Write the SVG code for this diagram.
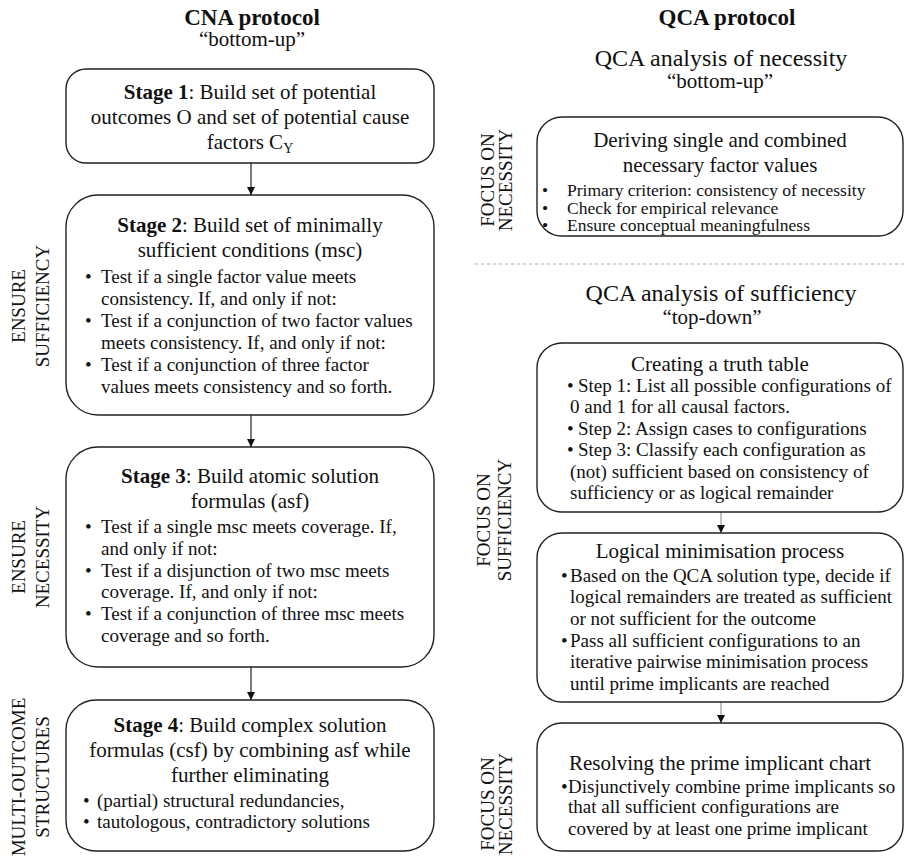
<svg xmlns="http://www.w3.org/2000/svg" width="904" height="860" viewBox="0 0 904 860">
<style>
text{font-family:"Liberation Serif","Times New Roman",serif;fill:#111}
.title{font-size:23px;font-weight:bold;text-anchor:middle}
.sub{font-size:21px;text-anchor:middle}
.h2{font-size:24px;text-anchor:middle}
.head{font-size:21px;text-anchor:middle}
.b{font-size:19px}
.bs{font-size:17.5px}
.side{font-size:19px;text-anchor:middle}
.box{fill:#fff;stroke:#222;stroke-width:1.4}
.conn{stroke:#222;stroke-width:1.2;fill:none}
.conn2{stroke:#999;stroke-width:1.2;fill:none}
</style>
<defs>
<marker id="ah" markerWidth="10" markerHeight="10" refX="8" refY="4" orient="auto" markerUnits="userSpaceOnUse">
<path d="M0,0 L8,4 L0,8 Z" fill="#111"/>
</marker>
</defs>
<rect width="904" height="860" fill="#fff"/>

<g id="titles">
<text class="title" x="252" y="25">CNA protocol</text>
<text class="sub" x="252" y="46">“bottom-up”</text>
<text class="title" x="727" y="25">QCA protocol</text>
<text class="h2" x="721" y="66">QCA analysis of necessity</text>
<text class="sub" x="720" y="88">“bottom-up”</text>
<text class="h2" x="721" y="301">QCA analysis of sufficiency</text>
<text class="sub" x="712" y="324">“top-down”</text>
<line x1="475" y1="264" x2="904" y2="264" stroke="#aaa" stroke-width="1" stroke-dasharray="3,3"/>
</g>

<g id="side-labels">
<text class="side" transform="translate(25,306) rotate(-90)">ENSURE</text>
<text class="side" transform="translate(49,306) rotate(-90)">SUFFICIENCY</text>
<text class="side" transform="translate(25,557) rotate(-90)">ENSURE</text>
<text class="side" transform="translate(49,557) rotate(-90)">NECESSITY</text>
<text class="side" transform="translate(25,777) rotate(-90)">MULTI-OUTCOME</text>
<text class="side" transform="translate(49,777) rotate(-90)">STRUCTURES</text>
<text class="side" transform="translate(494,180) rotate(-90)">FOCUS ON</text>
<text class="side" transform="translate(512,180) rotate(-90)">NECESSITY</text>
<text class="side" transform="translate(490,520) rotate(-90)">FOCUS ON</text>
<text class="side" transform="translate(511,520) rotate(-90)">SUFFICIENCY</text>
<text class="side" transform="translate(494,804) rotate(-90)">FOCUS ON</text>
<text class="side" transform="translate(512,804) rotate(-90)">NECESSITY</text>
</g>

<g id="connectors">
<line class="conn" x1="251" y1="163" x2="251" y2="195" marker-end="url(#ah)"/>
<line class="conn" x1="251" y1="415" x2="251" y2="447" marker-end="url(#ah)"/>
<line class="conn" x1="251" y1="667" x2="251" y2="700" marker-end="url(#ah)"/>
<line class="conn2" x1="721" y1="512" x2="721" y2="533" marker-end="url(#ah)"/>
<line class="conn2" x1="721" y1="702" x2="721" y2="723" marker-end="url(#ah)"/>
</g>

<g id="stage1">
<rect class="box" x="66" y="69" width="368" height="94" rx="20"/>
<text class="head" x="250" y="99"><tspan font-weight="bold">Stage 1</tspan>: Build set of potential</text>
<text class="head" x="250" y="124">outcomes O and set of potential cause</text>
<text class="head" x="250" y="149">factors C<tspan font-size="14" dy="4">Y</tspan></text>
</g>

<g id="stage2">
<rect class="box" x="66" y="195" width="368" height="220" rx="32"/>
<text class="head" x="250" y="232"><tspan font-weight="bold">Stage 2</tspan>: Build set of minimally</text>
<text class="head" x="250" y="257">sufficient conditions (msc)</text>
<text class="b" x="85" y="283">•</text><text class="b" x="101" y="283">Test if a single factor value meets</text>
<text class="b" x="101" y="305">consistency. If, and only if not:</text>
<text class="b" x="85" y="327">•</text><text class="b" x="101" y="327">Test if a conjunction of two factor values</text>
<text class="b" x="101" y="349">meets consistency. If, and only if not:</text>
<text class="b" x="85" y="371">•</text><text class="b" x="101" y="371">Test if a conjunction of three factor</text>
<text class="b" x="101" y="393">values meets consistency and so forth.</text>
</g>

<g id="stage3">
<rect class="box" x="66" y="447" width="368" height="220" rx="32"/>
<text class="head" x="250" y="483"><tspan font-weight="bold">Stage 3</tspan>: Build atomic solution</text>
<text class="head" x="250" y="508">formulas (asf)</text>
<text class="b" x="85" y="533">•</text><text class="b" x="101" y="533">Test if a single msc meets coverage. If,</text>
<text class="b" x="101" y="555">and only if not:</text>
<text class="b" x="85" y="577">•</text><text class="b" x="101" y="577">Test if a disjunction of two msc meets</text>
<text class="b" x="101" y="598">coverage. If, and only if not:</text>
<text class="b" x="85" y="620">•</text><text class="b" x="101" y="620">Test if a conjunction of three msc meets</text>
<text class="b" x="101" y="642">coverage and so forth.</text>
</g>

<g id="stage4">
<rect class="box" x="66" y="700" width="368" height="151" rx="30"/>
<text class="head" x="250" y="732"><tspan font-weight="bold">Stage 4</tspan>: Build complex solution</text>
<text class="head" x="250" y="757">formulas (csf) by combining asf while</text>
<text class="head" x="250" y="782">further eliminating</text>
<text class="b" x="83" y="807">•</text><text class="b" x="97" y="807">(partial) structural redundancies,</text>
<text class="b" x="83" y="828">•</text><text class="b" x="97" y="828">tautologous, contradictory solutions</text>
</g>

<g id="necessity">
<rect class="box" x="537" y="117" width="366" height="119" rx="25"/>
<text class="head" x="720" y="147">Deriving single and combined</text>
<text class="head" x="720" y="172">necessary factor values</text>
<text class="bs" x="542" y="196">•</text><text class="bs" x="567" y="196">Primary criterion: consistency of necessity</text>
<text class="bs" x="542" y="213.5">•</text><text class="bs" x="567" y="213.5">Check for empirical relevance</text>
<text class="bs" x="542" y="231">•</text><text class="bs" x="567" y="231">Ensure conceptual meaningfulness</text>
</g>

<g id="truth-table">
<rect class="box" x="537" y="343" width="366" height="169" rx="25"/>
<text class="head" x="720" y="371">Creating a truth table</text>
<text class="b" x="567" y="392">•</text><text class="b" x="578" y="392">Step 1: List all possible configurations of</text>
<text class="b" x="570" y="413">0 and 1 for all causal factors.</text>
<text class="b" x="567" y="435">•</text><text class="b" x="578" y="435">Step 2: Assign cases to configurations</text>
<text class="b" x="567" y="456">•</text><text class="b" x="578" y="456">Step 3: Classify each configuration as</text>
<text class="b" x="570" y="478">(not) sufficient based on consistency of</text>
<text class="b" x="570" y="499">sufficiency or as logical remainder</text>
</g>

<g id="minimisation">
<rect class="box" x="537" y="533" width="366" height="169" rx="25"/>
<text class="head" x="720" y="558">Logical minimisation process</text>
<text class="b" x="561" y="582">•</text><text class="b" x="570" y="582">Based on the QCA solution type, decide if</text>
<text class="b" x="570" y="603">logical remainders are treated as sufficient</text>
<text class="b" x="570" y="625">or not sufficient for the outcome</text>
<text class="b" x="561" y="647">•</text><text class="b" x="570" y="647">Pass all sufficient configurations to an</text>
<text class="b" x="570" y="668">iterative pairwise minimisation process</text>
<text class="b" x="570" y="690">until prime implicants are reached</text>
</g>

<g id="prime-chart">
<rect class="box" x="537" y="723" width="366" height="128" rx="25"/>
<text class="head" x="720" y="770">Resolving the prime implicant chart</text>
<text class="b" x="561" y="793">•</text><text class="b" x="568" y="793">Disjunctively combine prime implicants so</text>
<text class="b" x="568" y="813">that all sufficient configurations are</text>
<text class="b" x="568" y="835">covered by at least one prime implicant</text>
</g>
</svg>
